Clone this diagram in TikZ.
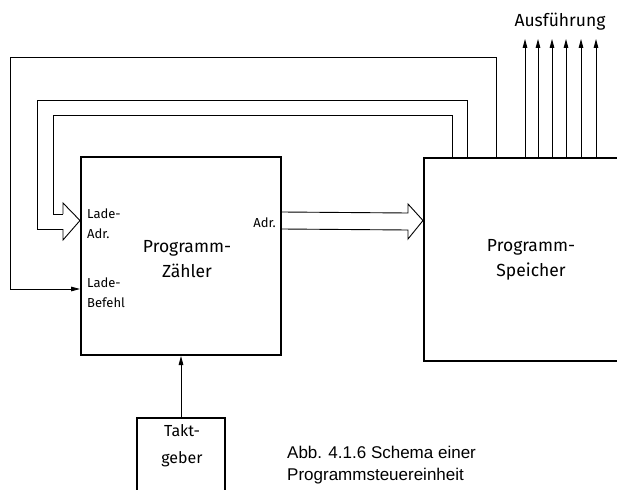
\documentclass[tikz,border=0pt]{standalone}
\usepackage{fontspec}
\setmainfont{Fira Sans}
\newfontfamily\capfont{Liberation Sans}
\usepackage{tikz}
\usetikzlibrary{arrows.meta, positioning, calc}

\begin{document}
\begin{tikzpicture}[
    x=1pt, y=-1pt,
    block/.style={
        rectangle, draw, line width=2pt, fill=white
    },
    lbl/.style={
        font=\fontsize{13}{19.5}\selectfont,
        align=left, inner sep=0pt
    },
    big/.style={
        font=\fontsize{17.5}{25}\selectfont,
        align=center, inner sep=0pt
    },
    sig/.style={line width=0.9pt},
    sigarr/.style={-{Triangle[length=9pt, width=4.6pt]}, line width=0.9pt}
]

\useasboundingbox (0,0) rectangle (617,489);
\clip (0,0) rectangle (617,489);

% === BLOECKE ===

\node[block, minimum width=200pt, minimum height=198pt] (pz) at (181,256) {};
\node[big] (pzt) at (187,259) {Programm-\\Zähler};

\node[block, minimum width=212pt, minimum height=203pt] (ps) at (530,259.5) {};
\node[big] (pst) at (531,260) {Programm-\\Speicher};

\node[block, minimum width=88pt, minimum height=90pt] (tg) at (181,463) {};
\node[big, font=\fontsize{16}{27}\selectfont] (tgt) at (182,446) {Takt-\\geber};

% === BESCHRIFTUNG ===

\node[lbl, anchor=west] (ladr) at (87,223.5) {Lade-\\Adr.};
\node[lbl, anchor=west] (lbef) at (87,292.5) {Lade-\\Befehl};
\node[lbl, anchor=east] (adr) at (276,223) {Adr.};

\node[big, anchor=south] (ausf) at (560,30) {Ausführung};

\node[font=\capfont\fontsize{17}{22}\selectfont, align=left, inner sep=0pt,
      anchor=north west] (cap) at (287,446) {Abb. 4.1.6 Schema einer\\Programmsteuereinheit};

% === VERBINDUNGEN ===

% Taktgeber -> Zaehler
\draw[sigarr] (tg.north) -- (pz.south);

% Ladebefehl
\draw[sigarr] ($(ps.north west)+(73,0)$) |- (10,57) |- ($(pz.north west)+(0,133)$);

% Ladeadresse (Bus)
\draw[sig] ($(ps.north west)+(44,0)$) |- (37,100) |- (63,229);
\draw[sig] ($(ps.north west)+(29,0)$) |- (53,115) |- (63,214);
\draw[sig, line join=miter] (63,214) -- (63,203) -- ($(pz.north west)+(0,64.5)$)
    -- (63,240) -- (63,229);

% Adresse (Bus)
\draw[sig, line join=miter] ($(pz.north east)+(0,56)$) -- (408,213) -- (408,204)
    -- ($(ps.north west)+(0,63.5)$) -- (408,239) -- (408,230) -- ($(pz.north east)+(0,73)$);

% Ausfuehrung
\draw[sigarr] ($(ps.north west)+(102,0)$) -- ++(0,-118);
\draw[sigarr] ($(ps.north west)+(115,0)$) -- ++(0,-118);
\draw[sigarr] ($(ps.north west)+(129,0)$) -- ++(0,-118);
\draw[sigarr] ($(ps.north west)+(143,0)$) -- ++(0,-118);
\draw[sigarr] ($(ps.north west)+(158,0)$) -- ++(0,-118);
\draw[sigarr] ($(ps.north west)+(173,0)$) -- ++(0,-118);

\end{tikzpicture}
\end{document}
